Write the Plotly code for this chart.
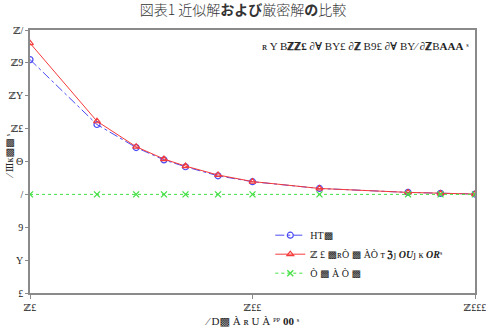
import plotly.graph_objects as go

# Data (log x axis)
x_vals = [10, 20, 30, 40, 50, 70, 100, 200, 500, 700, 1000]
approx_a = [14.2, 10.25, 8.85, 8.1, 7.68, 7.13, 6.77, 6.36, 6.12, 6.06, 6.02]
approx_b = [15.2, 10.45, 8.9, 8.15, 7.72, 7.18, 6.78, 6.36, 6.12, 6.06, 6.02]
exact = [6.0] * len(x_vals)

y_tickvals = [0, 2, 4, 6, 8, 10, 12, 14, 16]
y_ticktext = ["£", "Y", "9", "/", "Θ", "ℤ£", "ℤY", "ℤ9", "ℤ/"]
x_tickvals = [10, 100, 1000]
x_ticktext = ["ℤ£", "ℤ££", "ℤ£££"]

names = ["HT<b>▩</b>", "ℤ £ <b>▩</b>ʀÒ <b>▩</b> ÀÒ ᴛ <b>ℨ</b>ȷ <b><i>OU</i></b>ȷ ĸ <b><i>OR</i></b>ˢ", "Ò <b>▩</b> À Ò <b>▩</b>"]

serif = "Liberation Serif, DejaVu Serif, serif"

fig = go.Figure()
fig.add_trace(go.Scatter(
    x=x_vals, y=approx_a, name=names[0], mode="lines+markers",
    line=dict(color="#4a4af5", width=1, dash="dashdot"),
    marker=dict(symbol="circle-open", size=6, color="#4a4af5", line=dict(width=1.2))))
fig.add_trace(go.Scatter(
    x=x_vals, y=approx_b, name=names[1], mode="lines+markers",
    line=dict(color="#f53a3a", width=1),
    marker=dict(symbol="triangle-up-open", size=6, color="#f53a3a", line=dict(width=1.2))))
fig.add_trace(go.Scatter(
    x=x_vals, y=exact, name=names[2], mode="lines+markers",
    line=dict(color="#44e044", width=1, dash="dot"),
    marker=dict(symbol="x-thin-open", size=6, color="#44e044", line=dict(width=1.3, color="#44e044"))))

fig.update_layout(
    width=486, height=329,
    margin=dict(l=30, r=11, t=30, b=36),
    paper_bgcolor="white", plot_bgcolor="white",
    font=dict(family=serif, size=10, color="#222"),
    title=dict(text="図表1 近似解<b>および</b>厳密解<b>の</b>比較", x=0.5, xanchor="center", y=0.985, yanchor="top",
               font=dict(family="Noto Sans CJK JP, sans-serif", size=14, color="#333", weight=300)),
    showlegend=True,
    legend=dict(x=0.54, y=0.275, xanchor="left", yanchor="top", bgcolor="rgba(0,0,0,0)",
                font=dict(family=serif, size=10), tracegroupgap=0, itemwidth=30),
    xaxis=dict(type="log", range=[1, 3], tickvals=x_tickvals, ticktext=x_ticktext, automargin=False,
               showgrid=False, showline=True, linecolor="#8a8a8a", linewidth=1.5, mirror=True,
               ticks="outside", ticklen=4, tickcolor="#8a8a8a", zeroline=False,
               ticklabeloverflow="allow",
               tickfont=dict(family=serif, size=10)),
    yaxis=dict(range=[0, 16], tickvals=y_tickvals, ticktext=y_ticktext, automargin=False,
               showgrid=False, showline=True, linecolor="#8a8a8a", linewidth=1.5, mirror=True,
               ticks="outside", ticklen=3, tickcolor="#8a8a8a", zeroline=False, ticklabelstandoff=0,
               ticklabeloverflow="allow",
               tickfont=dict(family=serif, size=10)),
    annotations=[
        dict(x=0.99, y=0.97, xref="paper", yref="paper", xanchor="right", yanchor="top",
             showarrow=False,
             text="ʀ Y B<b>ℤℤ£</b> <b>∂∀</b> BY£ <b>∂ℤ</b> B9£ <b>∂∀</b> BY⁄ <b>∂ℤ</b>B<b>AAA</b> ˢ",
             font=dict(family=serif, size=11, color="#222")),
        dict(x=0.5, y=-0.105, xref="paper", yref="paper", xanchor="center", yanchor="middle",
             showarrow=False, text="⁄ D<b>▩</b> À ʀ U À ᴾᴾ <b>00</b> ˢ",
             font=dict(family=serif, size=11, color="#222")),
        dict(x=-0.047, y=0.52, xref="paper", yref="paper", xanchor="center", yanchor="middle",
             showarrow=False, textangle=-90, text="⁄ Ⅲĸ<b>▩▩</b> ˢ",
             font=dict(family=serif, size=10, color="#222")),
    ]
)

fig.write_html("out.html")
